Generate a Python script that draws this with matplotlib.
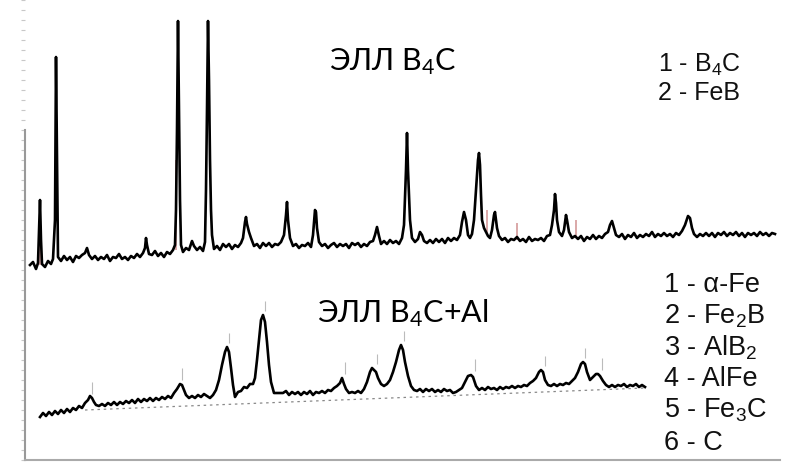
import matplotlib
matplotlib.use("Agg")
import matplotlib.pyplot as plt
from matplotlib.ticker import MultipleLocator

# XRD patterns (x = scan position, y = intensity, arb. units)
top_x = [30, 33, 36, 38, 39, 40, 41, 42, 45, 48, 51, 53, 55, 56, 57, 58, 61, 64, 67, 70,
         73, 76, 79, 82, 85, 87, 89, 92, 95, 98, 101, 104, 107, 110, 113, 116, 119, 122, 125, 128,
         131, 134, 137, 140, 143, 145, 146, 147, 149, 152, 155, 158, 161, 164, 167, 170, 173, 175, 176, 177,
         178, 179, 180, 181, 183, 186, 189, 192, 194, 197, 200, 203, 205, 206, 207, 208, 209, 210, 211, 212,
         214, 217, 220, 223, 226, 229, 232, 235, 238, 241, 243, 245, 246, 247, 249, 251, 254, 257, 260, 263,
         266, 269, 272, 275, 278, 281, 284, 286, 287, 288, 290, 293, 296, 299, 302, 305, 308, 311, 313, 315,
         316, 317, 319, 322, 325, 328, 331, 334, 337, 340, 343, 346, 349, 352, 355, 358, 361, 364, 367, 370,
         373, 375, 377, 379, 381, 384, 387, 390, 393, 396, 399, 402, 404, 406, 407, 408, 409, 410, 412, 415,
         418, 420, 422, 424, 427, 430, 433, 436, 439, 442, 445, 448, 451, 454, 457, 460, 462, 464, 466, 468,
         470, 472, 474, 476, 478, 479, 480, 481, 482, 484, 486, 488, 490, 492, 494, 495, 497, 499, 502, 505,
         508, 511, 514, 517, 520, 523, 526, 529, 532, 535, 538, 541, 544, 547, 550, 552, 554, 555, 556, 557,
         559, 562, 564, 566, 567, 569, 572, 575, 578, 581, 584, 587, 590, 593, 596, 599, 602, 605, 608, 610,
         612, 614, 616, 619, 622, 625, 628, 631, 634, 637, 640, 643, 646, 649, 652, 655, 658, 661, 664, 667,
         670, 673, 676, 679, 682, 685, 688, 690, 692, 694, 697, 700, 703, 706, 709, 712, 715, 718, 721, 724,
         727, 730, 733, 736, 739, 742, 745, 748, 751, 754, 757, 760, 763, 766, 769, 772, 775]
top_y = [195, 198, 191, 197, 230, 260, 220, 196, 193, 199, 196, 201, 240, 403, 300, 203, 199, 204, 200, 203,
         198, 204, 202, 205, 207, 212, 205, 201, 204, 200, 203, 201, 205, 199, 203, 202, 206, 201, 203, 200,
         204, 202, 206, 203, 207, 212, 222, 215, 206, 205, 209, 204, 207, 203, 208, 206, 210, 215, 250, 330,
         439, 350, 260, 215, 208, 212, 210, 219, 214, 210, 213, 209, 218, 270, 350, 439, 380, 300, 250, 225,
         211, 214, 210, 216, 213, 216, 211, 215, 213, 217, 222, 238, 243, 236, 228, 222, 214, 216, 212, 217,
         214, 217, 213, 216, 215, 218, 225, 245, 258, 240, 222, 214, 216, 212, 215, 214, 217, 213, 225, 250,
         248, 232, 218, 214, 216, 212, 215, 217, 213, 216, 214, 216, 212, 217, 215, 217, 213, 216, 214, 218,
         219, 225, 233, 224, 216, 219, 216, 220, 217, 219, 216, 222, 235, 290, 327, 290, 265, 240, 222, 218,
         221, 228, 225, 219, 217, 220, 217, 221, 218, 221, 217, 222, 219, 222, 220, 225, 238, 248, 240, 225,
         222, 226, 240, 270, 300, 307, 295, 265, 240, 232, 228, 224, 222, 230, 245, 248, 232, 224, 220, 222,
         218, 221, 220, 223, 219, 221, 218, 223, 219, 221, 220, 222, 219, 224, 225, 235, 250, 266, 257, 240,
         228, 224, 230, 245, 240, 228, 222, 224, 221, 224, 219, 223, 221, 225, 221, 224, 222, 226, 228, 235,
         239, 232, 225, 223, 226, 221, 225, 223, 227, 222, 225, 223, 226, 224, 228, 223, 226, 224, 227, 224,
         226, 223, 227, 225, 229, 235, 244, 242, 232, 226, 223, 226, 224, 227, 224, 227, 223, 227, 225, 228,
         224, 227, 225, 228, 224, 227, 223, 227, 225, 227, 224, 228, 225, 227, 224, 227, 226]

bot_x = [40, 43, 46, 49, 52, 55, 58, 61, 64, 67, 70, 73, 76, 79, 82, 85, 88, 90, 92, 94,
         96, 99, 102, 105, 108, 111, 114, 117, 120, 123, 126, 129, 132, 135, 138, 141, 144, 147, 150, 153,
         156, 159, 162, 165, 168, 171, 174, 177, 180, 182, 184, 186, 189, 192, 195, 198, 201, 204, 207, 210,
         213, 216, 219, 222, 225, 227, 229, 231, 233, 235, 238, 241, 244, 247, 250, 253, 255, 257, 259, 261,
         263, 265, 267, 269, 271, 274, 277, 280, 283, 286, 289, 292, 295, 298, 301, 304, 307, 310, 313, 316,
         319, 322, 325, 328, 331, 334, 337, 340, 342, 344, 346, 349, 352, 355, 358, 361, 364, 367, 370, 372,
         374, 376, 378, 381, 384, 387, 390, 393, 396, 399, 401, 403, 405, 408, 411, 414, 417, 420, 423, 426,
         429, 432, 435, 438, 441, 444, 447, 450, 453, 456, 459, 462, 465, 468, 471, 473, 476, 479, 482, 485,
         488, 491, 494, 497, 500, 503, 506, 509, 512, 515, 518, 521, 524, 527, 530, 533, 536, 539, 541, 543,
         545, 548, 551, 554, 557, 560, 563, 566, 569, 572, 575, 578, 581, 583, 585, 587, 590, 593, 596, 598,
         600, 603, 606, 609, 612, 615, 618, 621, 624, 627, 630, 633, 636, 639, 642, 645]
bot_y = [43, 47, 44, 48, 45, 49, 46, 50, 47, 51, 48, 52, 50, 54, 52, 57, 60, 64, 62, 58,
         55, 54, 56, 54, 57, 55, 58, 55, 58, 56, 59, 57, 60, 57, 61, 58, 61, 59, 62, 59,
         62, 60, 63, 61, 64, 62, 67, 71, 76, 75, 70, 65, 62, 64, 62, 65, 63, 66, 64, 62,
         65, 70, 80, 95, 108, 113, 108, 92, 75, 63, 68, 69, 73, 72, 76, 76, 82, 100, 120, 140,
         145, 138, 118, 95, 78, 67, 67, 67, 67, 69, 65, 68, 66, 68, 65, 68, 66, 69, 65, 68,
         67, 69, 67, 70, 69, 72, 74, 77, 82, 76, 71, 67, 68, 67, 69, 67, 71, 78, 88, 92,
         90, 88, 82, 76, 74, 76, 80, 88, 98, 110, 115, 110, 98, 84, 74, 70, 69, 71, 68, 71,
         69, 71, 68, 70, 68, 71, 69, 70, 67, 68, 70, 72, 78, 84, 85, 83, 74, 70, 72, 70,
         73, 71, 72, 70, 73, 71, 73, 72, 74, 72, 74, 73, 75, 74, 77, 79, 82, 88, 90, 88,
         80, 75, 74, 76, 74, 76, 75, 77, 76, 79, 82, 88, 96, 98, 96, 88, 80, 83, 86, 86,
         84, 79, 75, 73, 75, 73, 75, 74, 76, 73, 75, 74, 76, 73, 75, 73]

# dotted background line under the lower pattern
bg_x = [85, 645]
bg_y = [50, 72]

# faint peak markers above the lower pattern
mark_x = [92, 182, 229, 265, 345, 377, 404, 475, 545, 585, 602]
mark_lo = [66, 80, 117, 149, 86, 96, 119, 89, 94, 102, 90]
mark_hi = [78, 92, 127, 159, 98, 106, 129, 101, 104, 112, 102]

# reddish reference lines on the upper pattern
red_x = [40, 176, 487, 517, 576]
red_lo = [195, 210, 225, 220, 222]
red_hi = [260, 300, 250, 237, 240]

legend_top = ['1 - B$\\mathregular{_4}$C', '2 - FeB']
legend_bot = ['1 - α-Fe', '2 - Fe$\\mathregular{_2}$B', '3 - AlB$\\mathregular{_2}$',
              '4 - AlFe', '5 - Fe$\\mathregular{_3}$C', '6 - C']

fig = plt.figure(figsize=(7.89, 4.63), dpi=100)
ax = fig.add_axes([25 / 789, 3 / 463, 755 / 789, 460 / 463])
ax.set_xlim(25, 780)
ax.set_ylim(0, 460)

ax.vlines(red_x, red_lo, red_hi, color='#d49a9a', lw=1.2, zorder=1)
ax.plot(top_x, top_y, color='black', lw=1.9, zorder=2)
ax.plot(bot_x, bot_y, color='black', lw=1.9, zorder=2)
ax.plot(bg_x, bg_y, color='#888888', lw=0.9, ls=(0, (2, 3)), zorder=1)
ax.vlines(mark_x, mark_lo, mark_hi, color='#bbbbbb', lw=0.8, zorder=1)

for s in ['top', 'right']:
    ax.spines[s].set_visible(False)
ax.spines['left'].set_color('#999999')
ax.spines['left'].set_linewidth(1.5)
ax.spines['left'].set_bounds(0, 330)
ax.spines['bottom'].set_color('#aaaaaa')
ax.spines['bottom'].set_linewidth(1.5)
ax.set_xticks([])
ax.yaxis.set_major_locator(MultipleLocator(10))
ax.tick_params(axis='y', length=3, color='#c8c8c8', labelleft=False)

title_font = ['Lato', 'DejaVu Sans']
ax.text(393, 390, 'ЭЛЛ B$\\mathregular{_4}$C', family=title_font, fontsize=22,
        ha='center', va='baseline')
ax.text(403, 138, 'ЭЛЛ B$\\mathregular{_4}$C+Al', family=title_font, fontsize=22,
        ha='center', va='baseline')

for i, t in enumerate(legend_top):
    ax.text(658, 388 - i * 28, t, family=['Liberation Sans', 'DejaVu Sans'],
            fontsize=18, ha='left', va='baseline', color='#111111')
for i, t in enumerate(legend_bot):
    ax.text(664, 168 - i * 31.5, t, family=['Liberation Sans', 'DejaVu Sans'],
            fontsize=19.5, ha='left', va='baseline', color='#111111')

fig.savefig('out.png', dpi=100)
